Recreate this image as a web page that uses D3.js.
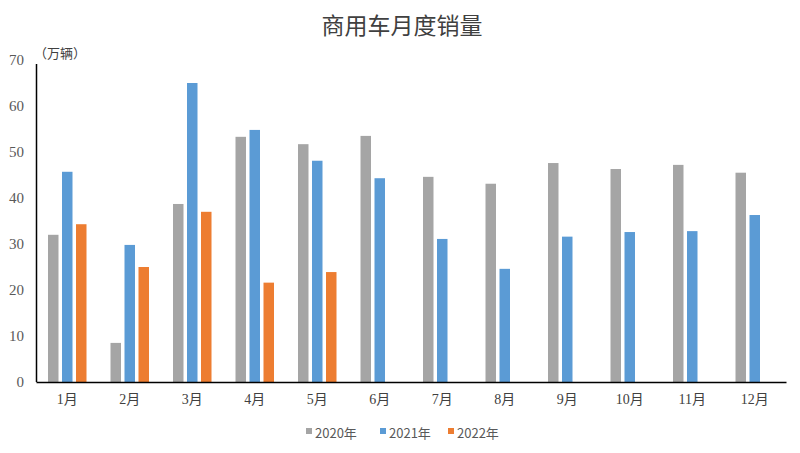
<!DOCTYPE html>
<html>
<head>
<meta charset="utf-8">
<script src="https://cdn.jsdelivr.net/npm/d3@7"></script>
<style>
  body { margin: 0; background: #fff; }
  text { font-family: "Noto Sans CJK SC", "Noto Sans", sans-serif; }
</style>
</head>
<body>
<div id="chart"></div>
<script>
/* CONSTANTS AND GLOBALS */
const width = 800,
  height = 453,
  margin = { top: 60, bottom: 71, left: 36, right: 14 };

/* DATA */
const months = ["1月", "2月", "3月", "4月", "5月", "6月", "7月", "8月", "9月", "10月", "11月", "12月"];
const years = ["2020年", "2021年", "2022年"];
const sales2020 = [32.0, 8.5, 38.7, 53.3, 51.7, 53.5, 44.6, 43.1, 47.6, 46.3, 47.2, 45.5];
const sales2021 = [45.7, 29.8, 65.0, 54.8, 48.1, 44.3, 31.1, 24.6, 31.6, 32.6, 32.8, 36.3];
const sales2022 = [34.3, 25.0, 37.0, 21.6, 23.9];
const yTicks = [0, 10, 20, 30, 40, 50, 60, 70];
const colors = ["#A5A5A5", "#5B9BD5", "#ED7D31"];

const series = [sales2020, sales2021, sales2022];

const serifFont = "'Liberation Serif', 'Times New Roman', 'Noto Sans CJK SC', serif";

/* SVG */
const svg = d3.select("#chart")
  .append("svg")
  .attr("width", width)
  .attr("height", height);

// title
svg.append("text")
  .attr("x", 402)
  .attr("y", 34)
  .attr("text-anchor", "middle")
  .attr("font-size", 23)
  .attr("fill", "#404040")
  .text("商用车月度销量");

/* SCALES */
const x0 = d3.scaleBand()
  .domain(months)
  .range([margin.left, width - margin.right]);

const x1 = d3.scaleBand()
  .domain(years)
  .range([x0.bandwidth() / 2 - 21, x0.bandwidth() / 2 + 21])
  .paddingInner(0.25)
  .paddingOuter(0.125);

const yScale = d3.scaleLinear()
  .domain([0, 70])
  .range([height - margin.bottom, margin.top]);

const colorScale = d3.scaleOrdinal().domain(years).range(colors);

/* BARS */
const bars = [];
series.forEach((vals, i) => {
  vals.forEach((v, j) => bars.push({ month: months[j], year: years[i], value: v }));
});

svg.selectAll("rect.bar")
  .data(bars)
  .join("rect")
  .attr("class", "bar")
  .attr("x", d => x0(d.month) + x1(d.year))
  .attr("width", x1.bandwidth())
  .attr("y", d => yScale(d.value))
  .attr("height", d => yScale(0) - yScale(d.value))
  .attr("fill", d => colorScale(d.year));

/* AXES */
const yAxis = d3.axisLeft(yScale).tickValues(yTicks).tickSize(0).tickPadding(12);
const yAxisGroup = svg.append("g")
  .attr("transform", `translate(${margin.left},0)`)
  .call(yAxis);
yAxisGroup.select(".domain").attr("stroke", "#000").attr("stroke-width", 1.5)
  .attr("d", `M0.5,${yScale(70) + 4}V${yScale(0)}`);
yAxisGroup.selectAll("text")
  .style("font-family", serifFont)
  .attr("font-size", 15)
  .attr("fill", "#595959");

const xAxis = d3.axisBottom(x0).tickSize(0).tickPadding(12);
const xAxisGroup = svg.append("g")
  .attr("transform", `translate(0,${yScale(0)})`)
  .call(xAxis);
xAxisGroup.select(".domain").attr("stroke", "#000").attr("stroke-width", 1.5);
xAxisGroup.selectAll("text")
  .style("font-family", serifFont)
  .attr("font-size", 14)
  .attr("fill", "#404040");

// unit label
svg.append("text")
  .attr("x", 34)
  .attr("y", 58)
  .attr("font-size", 13)
  .attr("fill", "#404040")
  .text("（万辆）");

/* LEGEND */
const legendX = [306, 380, 448];
const legend = svg.selectAll("g.legend")
  .data(years)
  .join("g")
  .attr("class", "legend")
  .attr("transform", (d, i) => `translate(${legendX[i]},433)`);

legend.append("rect")
  .attr("x", 0)
  .attr("y", -5)
  .attr("width", 6)
  .attr("height", 6)
  .attr("fill", d => colorScale(d));

legend.append("text")
  .attr("x", 9)
  .attr("y", 0)
  .attr("dy", "0.35em")
  .attr("font-size", 13)
  .attr("fill", "#595959")
  .text(d => d);
</script>
</body>
</html>
